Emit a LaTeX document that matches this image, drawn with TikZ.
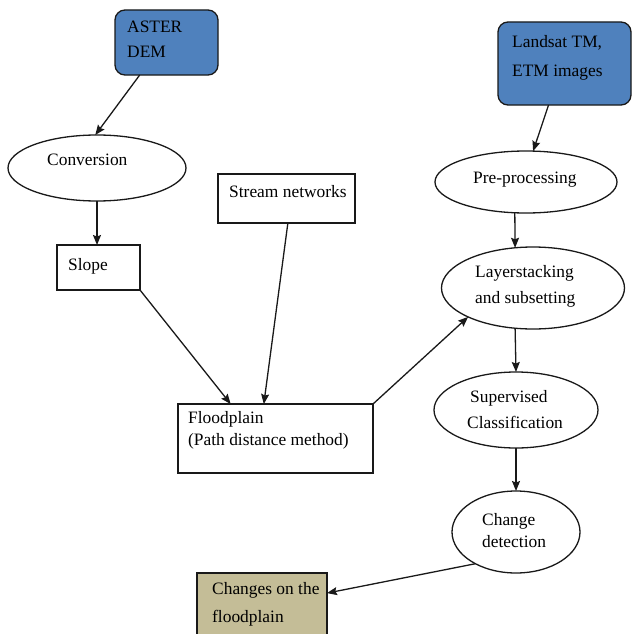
\documentclass[tikz,border=0pt]{standalone}
\usepackage{fontspec}
\setmainfont{Liberation Serif}
\usetikzlibrary{arrows.meta,shapes.geometric,calc}
\definecolor{boxblue}{HTML}{4F81BD}
\definecolor{boxtan}{HTML}{C4BD97}
\tikzset{
  x=1pt,y=-1pt,
  shp/.style={draw=black!90, line width=1.3pt, inner sep=0pt, outer sep=0pt},
  rbox/.style={shp, rectangle, fill=white},
  bluebox/.style={shp, rectangle, rounded corners=10pt, fill=boxblue},
  oval/.style={shp, ellipse, fill=white},
  txt/.style={anchor=base west, inner sep=0pt, font=\fontsize{17.4}{20}\selectfont},
  conn/.style={draw=black!90, line width=1.3pt, -{Stealth[length=10pt,width=8pt,inset=1.5pt]}}
}
\begin{document}
\begin{tikzpicture}
\useasboundingbox (0,0) rectangle (632,634);
\clip (0,0) rectangle (632,634);
% shapes
\node[bluebox, minimum width=103pt, minimum height=65pt] (aster) at (166.5,42.5) {};
\node[bluebox, minimum width=133pt, minimum height=83pt] (landsat) at (564.5,63.5) {};
\node[oval, minimum width=178pt, minimum height=66pt] (conv) at (97,168) {};
\node[rbox, minimum width=83pt, minimum height=45pt] (slope) at (98.5,267.5) {};
\node[rbox, minimum width=137pt, minimum height=49pt] (stream) at (286.5,198.5) {};
\node[rbox, minimum width=195pt, minimum height=69pt] (flood) at (275.5,438.5) {};
\node[oval, minimum width=182pt, minimum height=62pt] (pre) at (526,182) {};
\node[oval, minimum width=183pt, minimum height=82pt] (lay) at (533,288) {};
\node[oval, minimum width=164pt, minimum height=76pt] (sup) at (516,410) {};
\node[oval, minimum width=128pt, minimum height=82pt] (chg) at (516,532) {};
\node[rbox, fill=boxtan, minimum width=130pt, minimum height=67pt] (changes) at (262,606.5) {};
% texts
\node[txt] (t1) at (127,33) {ASTER};
\node[txt] (t2) at (127,57) {DEM};
\node[txt] (t3) at (512,48) {Landsat TM,};
\node[txt] (t4) at (512,77) {ETM images};
\node[txt] (t5) at (47,165) {Conversion};
\node[txt] (t6) at (68,270) {Slope};
\node[txt] (t7) at (229,197) {Stream networks};
\node[txt] (t8) at (188,423) {Floodplain};
\node[txt] (t9) at (188,445) {(Path distance method)};
\node[txt] (t10) at (473,183) {Pre-processing};
\node[txt] (t11) at (475,277) {Layerstacking};
\node[txt] (t12) at (475,303) {and subsetting};
\node[txt] (t13) at (470,402) {Supervised};
\node[txt] (t14) at (467,428) {Classification};
\node[txt] (t15) at (482,525) {Change};
\node[txt] (t16) at (482,547) {detection};
\node[txt] (t17) at (212,594) {Changes on the};
\node[txt] (t18) at (212,622) {floodplain};
% connectors
\draw[conn] ($(aster.south west)!0.24!(aster.south east)$) -- (conv.93);
\draw[conn] (conv.south) -- (conv.south |- slope.north);
\draw[conn] (slope.south east) -- ($(flood.north west)!0.27!(flood.north east)$);
\draw[conn] ($(stream.south west)!0.51!(stream.south east)$) -- ($(flood.north west)!0.44!(flood.north east)$);
\draw[conn] (flood.north east) -- (lay.204);
\draw[conn] ($(landsat.south west)!0.38!(landsat.south east)$) -- (pre.77);
\draw[conn] (pre.-110) -- (lay.114);
\draw[conn] (lay.-114) -- (sup.north);
\draw[conn] (sup.south) -- (chg.north);
\draw[conn] (chg.218) -- ($(changes.north east)!0.3!(changes.south east)$);
\end{tikzpicture}
\end{document}
